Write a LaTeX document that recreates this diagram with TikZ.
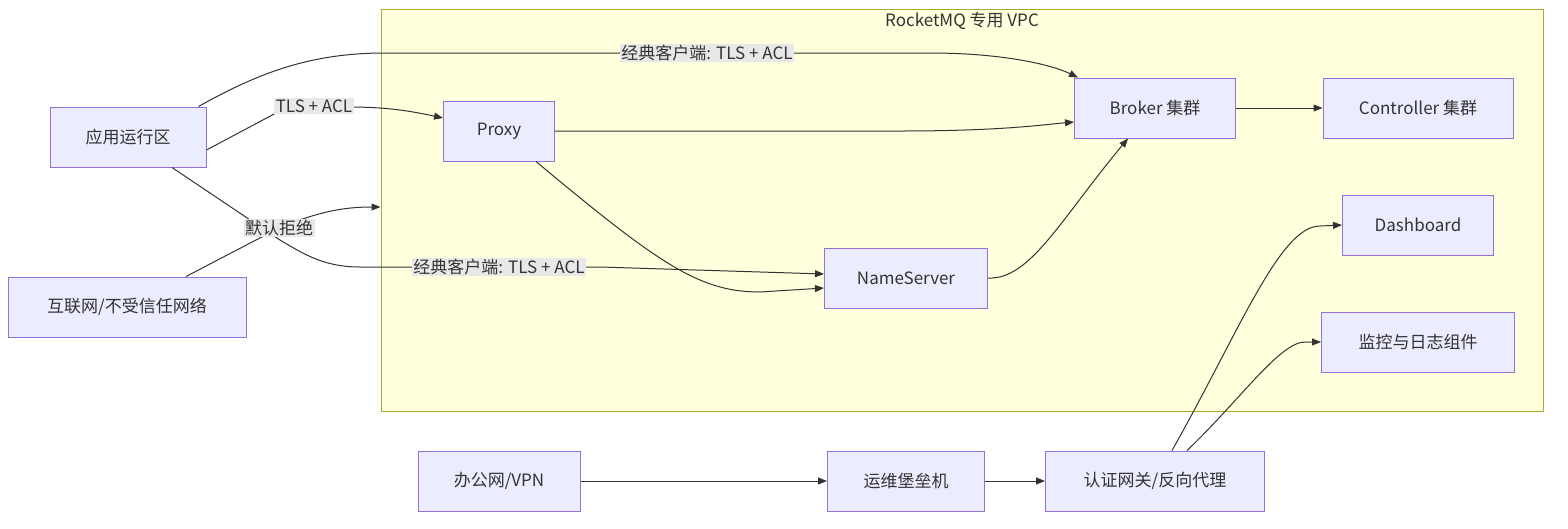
\documentclass[tikz,border=0pt]{standalone}
\usepackage{fontspec}
\setmainfont{Noto Sans CJK SC}
\usepackage{tikz}
\usetikzlibrary{arrows.meta,positioning,calc}
\definecolor{nodefill}{HTML}{ECECFF}
\definecolor{nodeline}{HTML}{9370DB}
\definecolor{vpcfill}{HTML}{FFFFDE}
\definecolor{vpcline}{HTML}{AAAA33}
\definecolor{lblfill}{HTML}{E8E8E8}
\definecolor{ink}{HTML}{333333}

\begin{document}
\begin{tikzpicture}[x=1pt,y=-1pt,
    every node/.style={font=\fontsize{17}{20}\selectfont,text=ink},
    box/.style={draw=nodeline,fill=nodefill,line width=1pt,minimum height=60,inner sep=0pt},
    lbl/.style={fill=lblfill,inner sep=1.5pt},
    flow/.style={draw=ink,line width=1pt,-{Triangle[length=9pt,width=7pt]}}]
  \useasboundingbox (0,0) rectangle (1568,528);

  % VPC area
  \node[draw=vpcline,fill=vpcfill,line width=1pt,minimum width=1162,minimum height=402,inner sep=0pt] (vpc) at (962,210) {};
  \node (vpctitle) at (962,21) {RocketMQ 专用 VPC};

  \node[box,minimum width=156] (app) at (128,137) {应用运行区};
  \node[box,minimum width=238] (inet) at (127,307) {互联网/不受信任网络};
  \node[box,minimum width=111] (proxy) at (499,131) {Proxy};
  \node[box,minimum width=161] (broker) at (1155,108) {Broker 集群};
  \node[box,minimum width=190] (ctrl) at (1418,108) {Controller 集群};
  \node[box,minimum width=163] (ns) at (906,278) {NameServer};
  \node[box,minimum width=151] (dash) at (1418,225) {Dashboard};
  \node[box,minimum width=193] (mon) at (1418,342) {监控与日志组件};
  \node[box,minimum width=162] (office) at (499,481) {办公网/VPN};
  \node[box,minimum width=157] (bastion) at (906,481) {运维堡垒机};
  \node[box,minimum width=219] (gw) at (1155,481) {认证网关/反向代理};

  % client paths
  \draw[flow] ([xshift=-8pt]app.north east) .. controls (260,72) and (310,54) .. (380,53)
    -- (707,53) node[lbl]{经典客户端: TLS + ACL} -- (930,53) .. controls (1000,53) and (1050,64) .. ([xshift=4pt]broker.north west);
  \draw[flow] ([yshift=-13pt]app.east) -- (276,113) -- (314,106) node[lbl]{TLS + ACL}
    -- (350,107) .. controls (390,107) and (415,112) .. ([yshift=13pt]proxy.west);
  \draw[flow] ([xshift=44pt]app.south) -- (280,240) .. controls (305,255) and (325,267) .. (360,267)
    -- (499,267) node[lbl]{经典客户端: TLS + ACL} -- (600,267) -- ([yshift=4pt]ns.west);
  \draw[flow] ([xshift=59pt]inet.north) -- (279,228) node[lbl]{默认拒绝}
    .. controls (320,211) and (345,207) .. ([yshift=3pt]vpc.west);

  % inside the VPC
  \draw[flow] (proxy.east) -- (900,131) .. controls (1000,131) and (1040,125) .. ([yshift=-14pt]broker.west);
  \draw[flow] ([xshift=37pt]proxy.south) .. controls (660,265) and (700,292) .. (760,292) -- ([yshift=-10pt]ns.west);
  \draw[flow] (ns.east) .. controls (1030,280) and (1060,220) .. ([xshift=-27pt]broker.south);
  \draw[flow] (broker.east) -- (ctrl.west);

  % operations access
  \draw[flow] (office.east) -- (bastion.west);
  \draw[flow] (bastion.east) -- (gw.west);
  \draw[flow] ([xshift=17pt]gw.north) .. controls (1240,330) and (1280,226) .. (1320,226) -- (dash.west);
  \draw[flow] ([xshift=32pt]gw.north) .. controls (1240,400) and (1280,342) .. (1305,342) -- (mon.west);
\end{tikzpicture}
\end{document}
